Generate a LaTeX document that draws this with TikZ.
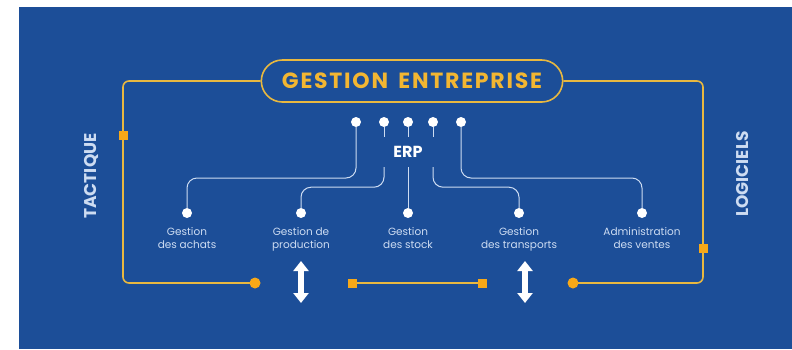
\documentclass[tikz,border=0pt]{standalone}
\usepackage{fontspec}
\setmainfont{Poppins}
\usepackage{tikz}
\usetikzlibrary{shapes.misc, positioning}
\usetikzlibrary{calc}
\usetikzlibrary{arrows.meta}
\definecolor{bgblue}{RGB}{28,78,152}
\definecolor{goldline}{RGB}{232,184,64}
\definecolor{goldtext}{RGB}{242,182,50}
\definecolor{markorange}{RGB}{247,168,24}
\definecolor{paleblue}{RGB}{205,220,242}

\begin{document}
\begin{tikzpicture}[x=1pt, y=-1pt,
		wire/.style={goldline, line width=1.6pt, rounded corners=6pt},
		branch/.style={paleblue, line width=1pt, rounded corners=10pt},
		pill/.style={rounded rectangle, draw=goldline, line width=1.6pt, minimum width=308pt, minimum height=42pt, text=goldtext, font=\fontsize{22}{25}\selectfont\bfseries\addfontfeature{LetterSpace=8}},
		sqmark/.style={fill=markorange, minimum size=9pt, inner sep=0pt},
		dotmark/.style={circle, fill=markorange, minimum size=11pt, inner sep=0pt},
		wdot/.style={circle, fill=white, minimum size=10pt, inner sep=0pt},
		lbl/.style={text=paleblue, align=center, font=\fontsize{10.5}{13}\selectfont, inner sep=0pt},
		side/.style={text=paleblue, rotate=90, font=\fontsize{17}{19}\selectfont\bfseries},
		updown/.style={white, line width=6pt, {Triangle[width=15pt,length=10pt]}-{Triangle[width=15pt,length=10pt]}}
	]
		\useasboundingbox (0,0) rectangle (792,349);
		\fill[bgblue] (19,7) rectangle (792,349);

		\node[pill] (title) at (412,81) {GESTION\hspace{4pt} ENTREPRISE};
		\node[text=white, font=\fontsize{16}{18}\selectfont\bfseries, minimum height=30pt, inner sep=0pt] (erp) at (408,152) {ERP};

		\node[side] (tactique) at (91,176) {TACTIQUE};
		\node[side] (logiciels) at (742,174) {LOGICIELS};

		\coordinate (sqL) at (123,135);
		\coordinate (sqR) at (703,248);
		\coordinate (dotL) at (255,283);
		\coordinate (dotR) at (573,283);
		\coordinate (sqM1) at (352,283);
		\coordinate (sqM2) at (482,283);

		\draw[wire] (title.west) -| (sqL) |- (dotL);
		\draw[wire] (title.east) -| (sqR) |- (dotR);
		\draw[wire] (sqM1) -- (sqM2);

		\foreach \c in {sqL,sqR,sqM1,sqM2} {
			\node[sqmark] at (\c) {};
		}
		\foreach \c in {dotL,dotR} {
			\node[dotmark] at (\c) {};
		}

		\foreach \n/\x in {e1/356, e2/384, e3/408, e4/433, e5/461} {
			\node[wdot] (\n) at (\x,122) {};
		}
		\foreach \n in {e2,e3,e4} {
			\draw[branch] (\n) -- (\n |- erp.north);
		}

		\foreach \n/\x/\t in {d1/187/{Gestion\\des achats}, d2/301/{Gestion de\\production}, d3/408/{Gestion\\des stock}, d4/519/{Gestion\\des transports}, d5/642/{Administration\\des ventes}} {
			\node[wdot] (\n) at (\x,213) {};
			\node[lbl, below=9pt of \n] (\n-t) {\t};
		}

		\draw[branch] (e1) -- (e1 |- 0,178) -| (d1);
		\draw[branch] (e2 |- erp.south) -- ++(0,20) -| (d2);
		\draw[branch] (e3 |- erp.south) -- (d3);
		\draw[branch] (e4 |- erp.south) -- ++(0,20) -| (d4);
		\draw[branch] (e5) -- (e5 |- 0,178) -| (d5);

		\coordinate (p1) at (301,261);
		\coordinate (p2) at (301,303);
		\coordinate (t1) at (525,261);
		\coordinate (t2) at (525,303);
		\draw[updown] (p1) -- (p2);
		\draw[updown] (t1) -- (t2);
	\end{tikzpicture}
\end{document}
